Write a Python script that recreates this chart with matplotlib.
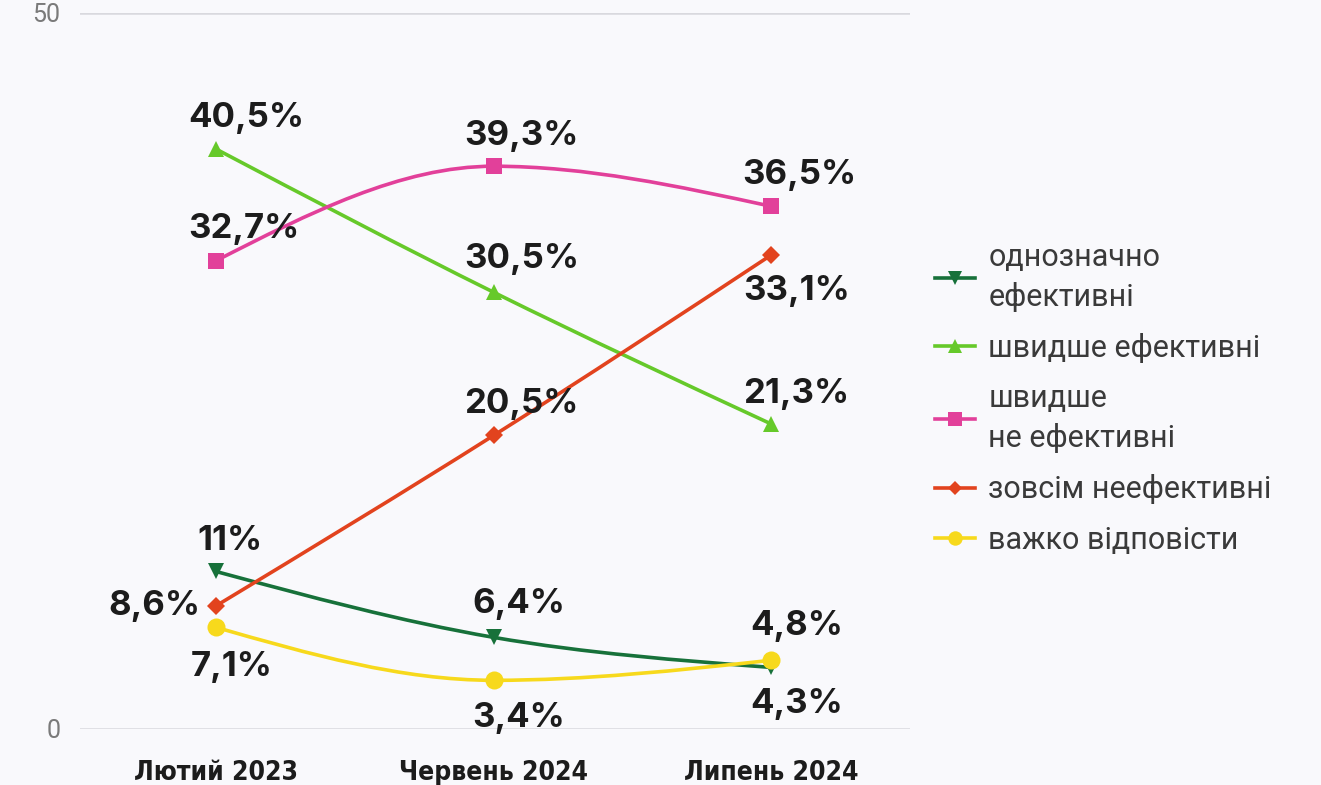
import numpy as np
import matplotlib
matplotlib.use("Agg")
import matplotlib.pyplot as plt
from matplotlib.path import Path
from matplotlib.patches import PathPatch
from matplotlib.lines import Line2D

# ---- data ----
periods = ["Лютий 2023", "Червень 2024", "Липень 2024"]
series_names = ["однозначно\nефективні", "швидше ефективні", "швидше\nне ефективні",
                "зовсім неефективні", "важко відповісти"]
definitely_effective = [11.0, 6.4, 4.3]
rather_effective = [40.5, 30.5, 21.3]
rather_not_effective = [32.7, 39.3, 36.5]
not_effective_at_all = [8.6, 20.5, 33.1]
hard_to_say = [7.1, 3.4, 4.8]
value_labels = [
    ["11%", "6,4%", "4,3%"],
    ["40,5%", "30,5%", "21,3%"],
    ["32,7%", "39,3%", "36,5%"],
    ["8,6%", "20,5%", "33,1%"],
    ["7,1%", "3,4%", "4,8%"],
]
y_ticks = [0, 50]

series = [definitely_effective, rather_effective, rather_not_effective,
          not_effective_at_all, hard_to_say]

# ---- styles ----
colors = ["#17713a", "#66c92a", "#e2409a", "#e2431e", "#f7d91c"]
markers = ["v", "^", "s", "D", "o"]
msizes = [12, 12, 12, 9, 13]
# label offsets in pixels (dx, dy, ha) per series per point
label_offsets = [
    [(14, 30, "center"), (25, 33, "center"), (25, -37, "center")],
    [(30, 31, "center"), (28, 33, "center"), (25, 30, "center")],
    [(28, 32, "center"), (28, 30, "center"), (28, 31, "center")],
    [(-16, 0, "right"), (28, 31, "center"), (25, -36, "center")],
    [(16, -40, "center"), (25, -38, "center"), (25, 34, "center")],
]

bg = "#f9f9fc"
W, H = 1321, 785
fig = plt.figure(figsize=(W / 100, H / 100), dpi=100, facecolor=bg)
ax = fig.add_axes([80 / W, 1 - 729 / H, (910 - 80) / W, (729 - 13) / H], facecolor=bg)

x = np.arange(len(periods), dtype=float)


def monotone_path(xs, ys):
    xs = np.asarray(xs, float)
    ys = np.asarray(ys, float)
    n = len(xs)
    h = np.diff(xs)
    s = np.diff(ys) / h
    t = np.zeros(n)
    for i in range(1, n - 1):
        p = (s[i - 1] * h[i] + s[i] * h[i - 1]) / (h[i - 1] + h[i])
        t[i] = (np.sign(s[i - 1]) + np.sign(s[i])) * min(abs(s[i - 1]), abs(s[i]), 0.5 * abs(p))
    t[0] = (3 * s[0] - t[1]) / 2
    t[-1] = (3 * s[-1] - t[-2]) / 2
    verts = [(xs[0], ys[0])]
    codes = [Path.MOVETO]
    for i in range(n - 1):
        dx = (xs[i + 1] - xs[i]) / 3
        verts += [(xs[i] + dx, ys[i] + dx * t[i]),
                  (xs[i + 1] - dx, ys[i + 1] - dx * t[i + 1]),
                  (xs[i + 1], ys[i + 1])]
        codes += [Path.CURVE4] * 3
    return Path(verts, codes)


for vals, labs, c, m, ms, offs in zip(series, value_labels, colors, markers, msizes, label_offsets):
    ax.add_patch(PathPatch(monotone_path(x, vals), fill=False, edgecolor=c, lw=2.6,
                           zorder=3, capstyle="round"))
    ax.plot(x, vals, linestyle="none", marker=m, markersize=ms, color=c,
            markeredgewidth=0, zorder=4)
    for xi, v, txt, (dx, dy, ha) in zip(x, vals, labs, offs):
        ax.annotate(txt, (xi, v), xytext=(dx, dy), textcoords="offset pixels",
                    ha=ha, va="center", fontsize=25, fontweight="bold",
                    family=["Inter", "DejaVu Sans"], color="#1c1c1c", zorder=5)

for yt in y_ticks:
    ax.axhline(yt, color="#d9d9de", lw=1.8, zorder=1)

ax.set_xlim(-0.49, 2.5)
ax.set_ylim(0, 50)
ax.set_yticks(y_ticks)
ax.set_yticklabels([str(v) for v in y_ticks], fontsize=18, color="#7a7a7a",
                   family=["Roboto", "DejaVu Sans"])
ax.set_xticks(x)
ax.set_xticklabels(periods, fontsize=19, fontweight="bold", color="#1c1c1c",
                   family=["DejaVu Sans"], fontstretch="condensed")
ax.tick_params(axis="y", length=0, pad=14)
ax.tick_params(axis="x", length=0, pad=22)
for sp in ax.spines.values():
    sp.set_visible(False)

handles = [Line2D([], [], color=c, marker=m, markersize=ms * 0.8, lw=2.6, markeredgewidth=0)
           for c, m, ms in zip(colors, markers, msizes)]
leg = fig.legend(handles, series_names, loc="upper left",
                 bbox_to_anchor=(935 / W, 1 - 243 / H), frameon=False,
                 prop={"family": ["Roboto", "DejaVu Sans"], "size": 22},
                 handlelength=1.3, handletextpad=0.45, labelspacing=0.7,
                 borderpad=0, borderaxespad=0)
for t in leg.get_texts():
    t.set_color("#3a3a3a")
    t.set_linespacing(1.4)

fig.savefig("out.png", dpi=100, facecolor=bg)
